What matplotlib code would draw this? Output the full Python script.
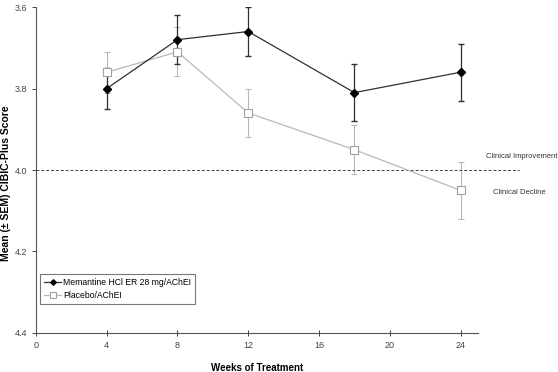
import numpy as np
import matplotlib
matplotlib.use('Agg')
import matplotlib.pyplot as plt

plt.rcParams['font.family'] = ['Liberation Sans', 'DejaVu Sans']

# Du lieu doc tu hinh
weeks = [4, 8, 12, 18, 24]
memantine = [3.80, 3.68, 3.66, 3.81, 3.76]
memantine_sem = [0.05, 0.06, 0.06, 0.07, 0.07]
placebo = [3.76, 3.71, 3.86, 3.95, 4.05]
placebo_sem = [0.05, 0.06, 0.06, 0.06, 0.07]
y_ticks = [3.6, 3.8, 4.0, 4.2, 4.4]
x_ticks = [0, 4, 8, 12, 16, 20, 24]
threshold = 4.0

fig = plt.figure(figsize=(5.58, 3.72), dpi=100)
ax = fig.add_axes([0.0645, 0.105, 0.7925, 0.876])

pl = ax.errorbar(weeks, placebo, yerr=placebo_sem, color='#b8b8b8', marker='s',
                 markersize=6, markerfacecolor='white', markeredgecolor='#a0a0a0',
                 markeredgewidth=0.8, linewidth=0.9, elinewidth=0.8, capsize=2)
me = ax.errorbar(weeks, memantine, yerr=memantine_sem, color='#303030', marker='D',
                 markersize=4, markerfacecolor='black', markeredgecolor='black',
                 linewidth=0.9, elinewidth=0.9, capsize=2)

# Duong nguong lam sang
ax.plot([0, 27.3], [threshold, threshold], linestyle=(0, (3, 2)), color='#404040',
        linewidth=0.7, clip_on=False)
ax.text(27.45, 3.966, 'Clinical Improvement', fontsize=5.5, ha='center', va='center', color='#333333')
ax.text(27.35, 4.054, 'Clinical Decline', fontsize=5.5, ha='center', va='center', color='#333333')

ax.set_xlim(0, 25)
ax.set_ylim(4.4, 3.6)
ax.set_xticks(x_ticks)
ax.set_yticks(y_ticks)
ax.set_yticklabels([f'{v:.1f}' for v in y_ticks])
ax.tick_params(labelsize=6.5, colors='#444444', length=3, width=0.7)
ax.tick_params(axis='x', direction='inout', length=4)
for side in ['top', 'right']:
    ax.spines[side].set_visible(False)
for side in ['left', 'bottom']:
    ax.spines[side].set_color('#555555')
    ax.spines[side].set_linewidth(0.8)

ax.set_xlabel('Weeks of Treatment', fontsize=7, fontweight='bold', labelpad=10)
ax.set_ylabel('Mean (± SEM) CIBIC-Plus Score', fontsize=7.5, fontweight='bold')
ax.yaxis.label.set_va('center')
ax.yaxis.set_label_coords(-0.068, 0.46)

leg = ax.legend([me[0], pl[0]], ['Memantine HCl ER 28 mg/AChEI', 'Placebo/AChEI'],
                loc='lower left', bbox_to_anchor=(0.0, 0.075), markerscale=0.7,
                fontsize=6.2, frameon=True, fancybox=False, edgecolor='#555555',
                handlelength=2.0, handletextpad=0.2, borderpad=0.45, labelspacing=0.5)
leg.get_frame().set_linewidth(0.8)

fig.savefig('out.png', dpi=100)
